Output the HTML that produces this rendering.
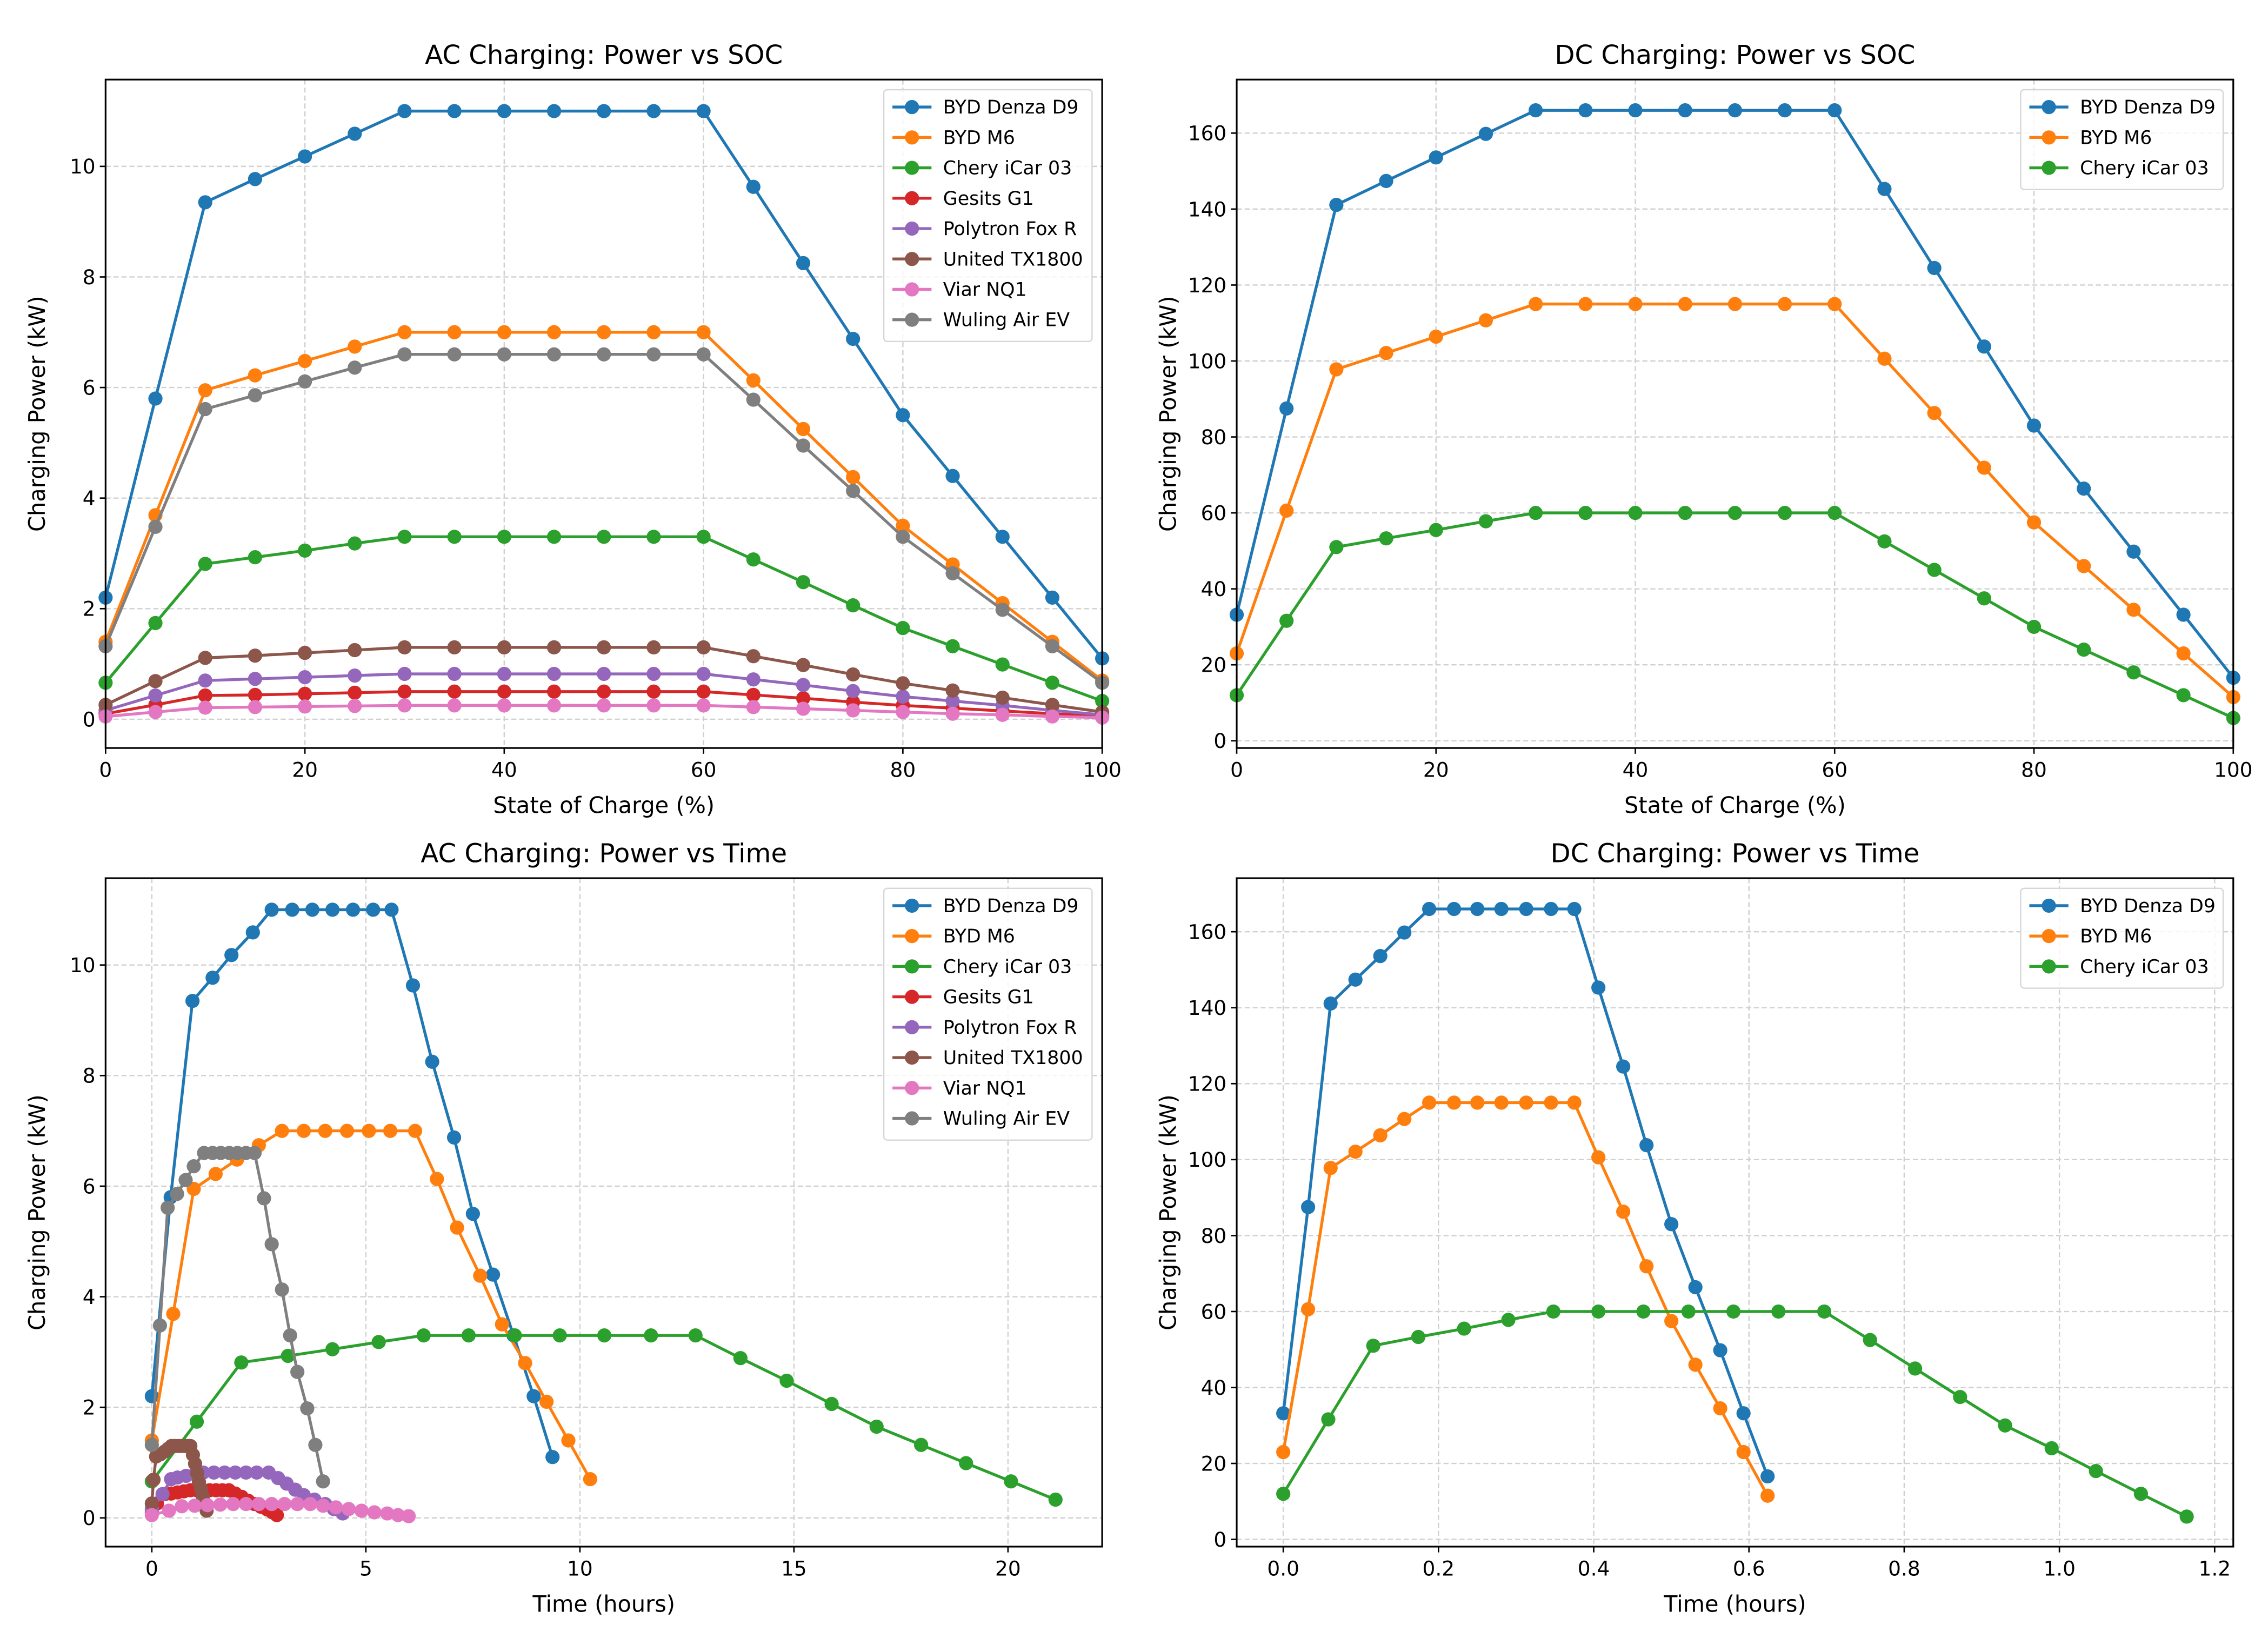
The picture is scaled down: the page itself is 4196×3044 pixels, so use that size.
<!DOCTYPE html>
<html><head><meta charset="utf-8"><style>
html,body{margin:0;padding:0;background:#fff}
svg{display:block}
text{font-family:"DejaVu Sans","Liberation Sans",sans-serif;fill:#000}
</style></head><body>
<svg id="fig" width="4196" height="3044" viewBox="0 0 1568 1137" preserveAspectRatio="none" xmlns="http://www.w3.org/2000/svg"></svg>
<script>
const socX = [0,5,10,15,20,25,30,35,40,45,50,55,60,65,70,75,80,85,90,95,100];
const acDenza = [2.2,5.8,9.35,9.77,10.18,10.59,11,11,11,11,11,11,11,9.63,8.25,6.88,5.5,4.4,3.3,2.2,1.1];
const acM6 = [1.4,3.69,5.95,6.22,6.48,6.74,7,7,7,7,7,7,7,6.13,5.25,4.38,3.5,2.8,2.1,1.4,0.7];
const acChery = [0.66,1.74,2.81,2.93,3.05,3.18,3.3,3.3,3.3,3.3,3.3,3.3,3.3,2.89,2.48,2.06,1.65,1.32,0.99,0.66,0.33];
const acGesits = [0.1,0.26,0.43,0.44,0.46,0.48,0.5,0.5,0.5,0.5,0.5,0.5,0.5,0.44,0.38,0.31,0.25,0.2,0.15,0.1,0.05];
const acPolytron = [0.16,0.43,0.7,0.73,0.76,0.79,0.82,0.82,0.82,0.82,0.82,0.82,0.82,0.72,0.62,0.51,0.41,0.33,0.25,0.16,0.08];
const acUnited = [0.26,0.69,1.11,1.15,1.2,1.25,1.3,1.3,1.3,1.3,1.3,1.3,1.3,1.14,0.98,0.81,0.65,0.52,0.39,0.26,0.13];
const acViar = [0.05,0.13,0.21,0.22,0.23,0.24,0.25,0.25,0.25,0.25,0.25,0.25,0.25,0.22,0.19,0.16,0.13,0.1,0.08,0.05,0.03];
const acWuling = [1.32,3.48,5.61,5.86,6.11,6.36,6.6,6.6,6.6,6.6,6.6,6.6,6.6,5.78,4.95,4.13,3.3,2.64,1.98,1.32,0.66];
const dcDenza = [33.2,87.5,141.1,147.4,153.6,159.8,166,166,166,166,166,166,166,145.3,124.5,103.8,83,66.4,49.8,33.2,16.6];
const dcM6 = [23,60.6,97.8,102.1,106.4,110.7,115,115,115,115,115,115,115,100.6,86.3,71.9,57.5,46,34.5,23,11.5];
const dcChery = [12,31.6,51,53.3,55.5,57.8,60,60,60,60,60,60,60,52.5,45,37.5,30,24,18,12,6];
const tDenza = [0,0.44,0.95,1.42,1.86,2.36,2.8,3.28,3.75,4.22,4.7,5.17,5.6,6.1,6.55,7.06,7.5,7.97,8.45,8.92,9.36];
const tM6 = [0,0.5,0.98,1.49,1.99,2.5,3.04,3.55,4.05,4.56,5.07,5.57,6.15,6.66,7.13,7.67,8.18,8.72,9.22,9.73,10.24];
const tChery = [0,1.05,2.09,3.18,4.22,5.3,6.35,7.4,8.48,9.53,10.57,11.66,12.7,13.75,14.83,15.88,16.93,17.97,19.02,20.07,21.11];
const tGesits = [0,0.12,0.3,0.45,0.6,0.75,0.9,1.05,1.2,1.35,1.5,1.65,1.8,1.95,2.1,2.25,2.4,2.55,2.7,2.82,2.92];
const tPolytron = [0,0.25,0.45,0.6,0.8,1.0,1.2,1.45,1.7,1.95,2.2,2.45,2.73,2.95,3.15,3.35,3.55,3.8,4.05,4.25,4.46];
const tUnited = [0,0.04,0.1,0.2,0.3,0.38,0.46,0.54,0.62,0.7,0.78,0.84,0.9,0.96,1.01,1.06,1.1,1.15,1.19,1.24,1.28];
const tViar = [0,0.4,0.7,1.0,1.3,1.6,1.9,2.2,2.5,2.8,3.1,3.4,3.7,4.0,4.3,4.6,4.9,5.2,5.5,5.75,6.0];
const tWuling = [0,0.19,0.37,0.59,0.79,0.98,1.22,1.42,1.61,1.81,2.0,2.2,2.4,2.62,2.8,3.04,3.23,3.4,3.63,3.82,4.0];
const tDcAB = [0,0.032,0.061,0.093,0.125,0.156,0.188,0.22,0.25,0.281,0.313,0.345,0.375,0.406,0.438,0.468,0.5,0.531,0.563,0.593,0.624];
const tDcChery = [0,0.058,0.116,0.174,0.233,0.29,0.348,0.406,0.464,0.522,0.58,0.638,0.697,0.756,0.814,0.872,0.93,0.99,1.047,1.105,1.164];
const acNames = ["BYD Denza D9","BYD M6","Chery iCar 03","Gesits G1","Polytron Fox R","United TX1800","Viar NQ1","Wuling Air EV"];
const dcNames = ["BYD Denza D9","BYD M6","Chery iCar 03"];
const colors = ["#1f77b4","#ff7f0e","#2ca02c","#d62728","#9467bd","#8c564b","#e377c2","#7f7f7f"];
const ticksAcY = [0,2,4,6,8,10];
const ticksDcY = [0,20,40,60,80,100,120,140,160];
const ticksSoc = [0,20,40,60,80,100];
const ticksAcT = [0,5,10,15,20];
const ticksDcT = [0,0.2,0.4,0.6,0.8,1.0,1.2];

const NS="http://www.w3.org/2000/svg";
const fig=document.getElementById('fig');
function mk(tag,attrs,parent){const e=document.createElementNS(NS,tag);for(const k in attrs)e.setAttribute(k,attrs[k]);(parent||fig).appendChild(e);return e;}

function panel(cfg){
  const g=mk('g',{});
  
  
  const L=cfg.box[0],R=cfg.box[1],T=cfg.box[2],B=cfg.box[3];
  const sx=v=>L+(v-cfg.xlim[0])/(cfg.xlim[1]-cfg.xlim[0])*(R-L);
  const sy=v=>B-(v-cfg.ylim[0])/(cfg.ylim[1]-cfg.ylim[0])*(B-T);
  cfg.xt.forEach(v=>{
    const gl=mk('line',{x1:sx(v),x2:sx(v),y1:T,y2:B,stroke:'#d0d0d0','stroke-width':0.9,'stroke-dasharray':'3.5,2'},g);
    
    
    mk('line',{x1:sx(v),x2:sx(v),y1:B,y2:B+4,stroke:'#000','stroke-width':1},g);
    const t=mk('text',{x:sx(v),y:B+20,'text-anchor':'middle','font-size':14},g);
    t.textContent=cfg.xfmt(v);
    
    
  });
  cfg.yt.forEach(v=>{
    const gl=mk('line',{x1:L,x2:R,y1:sy(v),y2:sy(v),stroke:'#d0d0d0','stroke-width':0.9,'stroke-dasharray':'3.5,2'},g);
    
    
    mk('line',{x1:L-4,x2:L,y1:sy(v),y2:sy(v),stroke:'#000','stroke-width':1},g);
    const t=mk('text',{x:L-7,y:sy(v)+5,'text-anchor':'end','font-size':14},g);
    t.textContent=String(v);
    
    
  });
  cfg.series.forEach((s,i)=>{
    const sg=mk('g',{},g);
    
    
    const pts=s[1].map((y,j)=>sx(s[0][j])+','+sy(y)).join(' ');
    mk('polyline',{points:pts,fill:'none',stroke:colors[i],'stroke-width':2},sg);
    s[1].forEach((y,j)=>{
      const c=mk('circle',{cx:sx(s[0][j]),cy:sy(y),r:4.9,fill:colors[i]},sg);
      
      
    });
  });
  const fr=mk('rect',{x:L,y:T,width:R-L,height:B-T,fill:'none',stroke:'#000','stroke-width':1.2},g);
  
  
  const tt=mk('text',{x:(L+R)/2,y:T-11,'text-anchor':'middle','font-size':18},g);
  tt.textContent=cfg.title;
  
  
  const xl=mk('text',{x:(L+R)/2,y:B+45,'text-anchor':'middle','font-size':15.5},g);
  xl.textContent=cfg.xlabel;
  
  
  const yx=L-42, yy=(T+B)/2;
  const yl=mk('text',{x:yx,y:yy,'text-anchor':'middle','font-size':15.5,transform:'rotate(-90 '+yx+' '+yy+')'},g);
  yl.textContent='Charging Power (kW)';
  
  
  const lg=mk('g',{},g);
  
  
  const lw=cfg.names.length>3?144:140, lx=R-lw-7, ly=T+7, lh=cfg.names.length*21+6;
  mk('rect',{x:lx,y:ly,width:lw,height:lh,rx:2.5,fill:'#fff','fill-opacity':0.8,stroke:'#d6d6d6','stroke-width':0.9},lg);
  cfg.names.forEach((n,i)=>{
    const cy=ly+12+i*21;
    const e=mk('g',{},lg);
    
    
    mk('line',{x1:lx+6,x2:lx+33,y1:cy,y2:cy,stroke:colors[i],'stroke-width':2},e);
    mk('circle',{cx:lx+19.5,cy:cy,r:4.9,fill:colors[i]},e);
    const t=mk('text',{x:lx+41,y:cy+4.5,'font-size':13},e);
    t.textContent=n;
  });
}
const fmtInt=v=>String(v), fmt1=v=>v.toFixed(1);
panel({name:'ac-soc-chart',box:[73,762,55,517],xlim:[0,100],ylim:[-0.52,11.57],xt:ticksSoc,yt:ticksAcY,xfmt:fmtInt,
  title:'AC Charging: Power vs SOC',xlabel:'State of Charge (%)',names:acNames,
  series:[[socX,acDenza],[socX,acM6],[socX,acChery],[socX,acGesits],[socX,acPolytron],[socX,acUnited],[socX,acViar],[socX,acWuling]]});
panel({name:'dc-soc-chart',box:[855,1544,55,517],xlim:[0,100],ylim:[-1.9,174.1],xt:ticksSoc,yt:ticksDcY,xfmt:fmtInt,
  title:'DC Charging: Power vs SOC',xlabel:'State of Charge (%)',names:dcNames,
  series:[[socX,dcDenza],[socX,dcM6],[socX,dcChery]]});
panel({name:'ac-time-chart',box:[73,762,607,1069],xlim:[-1.08,22.2],ylim:[-0.52,11.57],xt:ticksAcT,yt:ticksAcY,xfmt:fmtInt,
  title:'AC Charging: Power vs Time',xlabel:'Time (hours)',names:acNames,
  series:[[tDenza,acDenza],[tM6,acM6],[tChery,acChery],[tGesits,acGesits],[tPolytron,acPolytron],[tUnited,acUnited],[tViar,acViar],[tWuling,acWuling]]});
panel({name:'dc-time-chart',box:[855,1544,607,1069],xlim:[-0.06,1.224],ylim:[-1.9,174.1],xt:ticksDcT,yt:ticksDcY,xfmt:fmt1,
  title:'DC Charging: Power vs Time',xlabel:'Time (hours)',names:dcNames,
  series:[[tDcAB,dcDenza],[tDcAB,dcM6],[tDcChery,dcChery]]});
</script>
</body></html>
